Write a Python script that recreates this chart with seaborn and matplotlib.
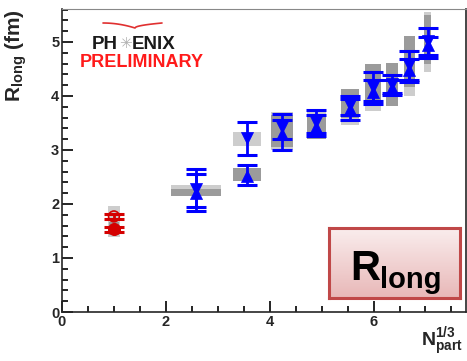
import numpy as np
import pandas as pd
import matplotlib
matplotlib.use("Agg")
import matplotlib.pyplot as plt
from matplotlib.patches import Rectangle
from matplotlib.ticker import MultipleLocator
import seaborn as sns

# ---------------- data ----------------
red_x = [1.0, 1.0]
red_y = [1.77, 1.53]
red_err = [0.04, 0.05]
red_sys_lo = [1.38, 1.42]
red_sys_hi = [1.97, 1.66]
red_sys_w = [0.11, 0.09]

down_x = [2.58, 3.56, 4.24, 4.90, 5.54, 5.99, 6.35, 6.69, 7.04]
down_y = [2.27, 3.22, 3.43, 3.52, 3.84, 4.17, 4.22, 4.57, 5.02]
down_err_lo = [0.40, 0.31, 0.23, 0.21, 0.19, 0.27, 0.17, 0.27, 0.27]
down_err_hi = [0.37, 0.29, 0.23, 0.22, 0.16, 0.28, 0.17, 0.26, 0.24]
down_sys_lo = [2.15, 3.08, 3.00, 3.22, 3.46, 3.72, 3.95, 4.00, 4.45]
down_sys_hi = [2.36, 3.33, 3.70, 3.76, 4.05, 4.45, 4.50, 4.80, 5.55]

up_x = [2.58, 3.56, 4.24, 4.90, 5.54, 5.99, 6.35, 6.69, 7.04]
up_y = [2.20, 2.52, 3.30, 3.42, 3.76, 4.08, 4.14, 4.48, 4.94]
up_err_lo = [0.25, 0.17, 0.30, 0.17, 0.20, 0.22, 0.12, 0.23, 0.24]
up_err_hi = [0.36, 0.21, 0.25, 0.23, 0.19, 0.22, 0.16, 0.20, 0.16]
up_sys_lo = [2.15, 2.43, 3.05, 3.20, 3.60, 3.89, 3.81, 4.17, 4.60]
up_sys_hi = [2.28, 2.66, 3.65, 3.65, 4.12, 4.59, 4.61, 5.11, 5.50]

sys_halfwidth = [0.49, 0.27, 0.21, 0.19, 0.17, 0.16, 0.12, 0.10, 0.07]

xticks = [0, 2, 4, 6]
yticks = [0, 1, 2, 3, 4, 5]

# ---------------- style ----------------
sns.set_style("ticks")
plt.rcParams['font.family'] = ['Liberation Sans', 'DejaVu Sans']
plt.rcParams['mathtext.fontset'] = 'custom'
plt.rcParams['mathtext.rm'] = 'Liberation Sans'
plt.rcParams['mathtext.bf'] = 'Liberation Sans:bold'
plt.rcParams['mathtext.it'] = 'Liberation Sans:italic'

W, H = 467, 361
fig = plt.figure(figsize=(W / 100, H / 100), dpi=100)
ax = fig.add_axes([62 / W, 1 - 312 / H, (466 - 62) / W, (312 - 9) / H])

LIGHT = "#cdcdcd"
DARK = "#9b9b9b"
BLUE = "#0000ff"
RED = "#d40000"

# systematic boxes
for x, lo, hi, w in zip(down_x, down_sys_lo, down_sys_hi, sys_halfwidth):
    ax.add_patch(Rectangle((x - w, lo), 2 * w, hi - lo, facecolor=LIGHT, edgecolor="none", zorder=1))
for x, lo, hi, w in zip(up_x, up_sys_lo, up_sys_hi, sys_halfwidth):
    ax.add_patch(Rectangle((x - w, lo), 2 * w, hi - lo, facecolor=DARK, edgecolor="none", zorder=1.5))
ax.add_patch(Rectangle((red_x[0] - red_sys_w[0], red_sys_lo[0]), 2 * red_sys_w[0],
                       red_sys_hi[0] - red_sys_lo[0], facecolor=LIGHT, edgecolor="none", zorder=1))
ax.add_patch(Rectangle((red_x[1] - red_sys_w[1], red_sys_lo[1]), 2 * red_sys_w[1],
                       red_sys_hi[1] - red_sys_lo[1], facecolor=DARK, edgecolor="none", zorder=1.5))

# error bars
ax.errorbar(down_x, down_y, yerr=[down_err_lo, down_err_hi], fmt="none", ecolor=BLUE,
            elinewidth=2, capsize=7, capthick=2.2, zorder=3)
ax.errorbar(up_x, up_y, yerr=[up_err_lo, up_err_hi], fmt="none", ecolor=BLUE,
            elinewidth=2, capsize=7, capthick=2.2, zorder=3)
ax.errorbar(red_x, red_y, yerr=red_err, fmt="none", ecolor=RED,
            elinewidth=2, capsize=7, capthick=2.2, zorder=3)

# markers via seaborn
df_down = pd.DataFrame({"x": down_x, "y": down_y})
df_up = pd.DataFrame({"x": up_x, "y": up_y})
sns.scatterplot(data=df_down, x="x", y="y", marker="v", s=75, color=BLUE, edgecolor=BLUE,
                linewidth=0.5, ax=ax, zorder=4, legend=False)
sns.scatterplot(data=df_up, x="x", y="y", marker="^", s=75, color=BLUE, edgecolor=BLUE,
                linewidth=0.5, ax=ax, zorder=4, legend=False)
df_red_open = pd.DataFrame({"x": red_x[:1], "y": red_y[:1]})
df_red_fill = pd.DataFrame({"x": red_x[1:], "y": red_y[1:]})
sns.scatterplot(data=df_red_open, x="x", y="y", marker="o", s=60, facecolor="none",
                edgecolor=RED, linewidth=1.2, ax=ax, zorder=4, legend=False)
sns.scatterplot(data=df_red_fill, x="x", y="y", marker="o", s=75, color=RED, edgecolor=RED,
                ax=ax, zorder=4, legend=False)

# axes
ax.set_xlim(0, 7.78)
ax.set_ylim(0, 5.61)
ax.set_xticks(xticks)
ax.set_yticks(yticks)
ax.xaxis.set_minor_locator(MultipleLocator(0.5))
ax.yaxis.set_minor_locator(MultipleLocator(0.2))
ax.tick_params(which="both", direction="in", top=False, right=False, width=1.2, color="black")
ax.tick_params(which="major", length=8, labelsize=10.5, pad=2)
ax.tick_params(which="minor", length=4)
for lab in ax.get_xticklabels() + ax.get_yticklabels():
    lab.set_fontweight("bold")
for sp in ax.spines.values():
    sp.set_linewidth(1.2)
    sp.set_visible(True)
ax.spines["top"].set_color("#888888")
ax.spines["top"].set_linewidth(0.8)
ax.set_xlabel("")
ax.set_ylabel("")

# axis titles
fig.text(16 / W, 1 - 9 / H, r"$\mathbf{R_{long}}$ (fm)", rotation=90, ha="center", va="top",
         fontsize=15, fontweight="bold")
fig.text(463 / W, 3 / H, r"$\mathbf{N_{part}^{1/3}}$", ha="right", va="bottom",
         fontsize=14, fontweight="bold")

# PHENIX logo
fig.text(118 / W, 1 - 49 / H, "PH", ha="right", va="baseline", fontsize=13.5,
         fontweight="bold", color="#1a1a1a")
fig.text(132 / W, 1 - 49 / H, "ENIX", ha="left", va="baseline", fontsize=13.5,
         fontweight="bold", color="#1a1a1a")
fig.text(125 / W, 1 - 43 / H, "\u2733", ha="center", va="center", fontsize=11,
         color="#b0b0b0", family=["DejaVu Sans"])
fig.text(80 / W, 1 - 67 / H, "PRELIMINARY", ha="left", va="baseline", fontsize=13,
         fontweight="bold", color="#ff1a1a")
# arc above logo
t = np.linspace(0, 1, 40)
xa1 = 103 + (135 - 103) * t
ya1 = 23 + 5 * t ** 2
xa2 = 135 + (162 - 135) * t
ya2 = 28 - 5 * np.sqrt(t)
fig.add_artist(plt.Line2D(np.r_[xa1, xa2] / W, 1 - np.r_[ya1, ya2] / H, color="#e03030", lw=1.2))

# R_long box with gradient
bx0, by0, bx1, by1 = 329 / W, 1 - 298 / H, 460 / W, 1 - 228 / H
grad = np.linspace(0, 1, 100).reshape(-1, 1)
top_c = np.array([0.98, 0.93, 0.93])
bot_c = np.array([0.91, 0.72, 0.72])
img = top_c * (1 - grad[..., None]) + bot_c * grad[..., None]
img = np.repeat(img, 2, axis=1)
gax = fig.add_axes([bx0, by0, bx1 - bx0, by1 - by0])
gax.imshow(img[::-1], aspect="auto", extent=[0, 1, 0, 1], origin="lower")
gax.set_xticks([])
gax.set_yticks([])
for sp in gax.spines.values():
    sp.set_color("#c04848")
    sp.set_linewidth(2.2)
fig.text(350 / W, 1 - 280 / H, "R", fontsize=30, fontweight="bold", color="black",
         ha="left", va="baseline")
fig.text(380 / W, 1 - 288 / H, "long", fontsize=21, fontweight="bold", color="black",
         ha="left", va="baseline")

fig.savefig("out.png", dpi=100)
